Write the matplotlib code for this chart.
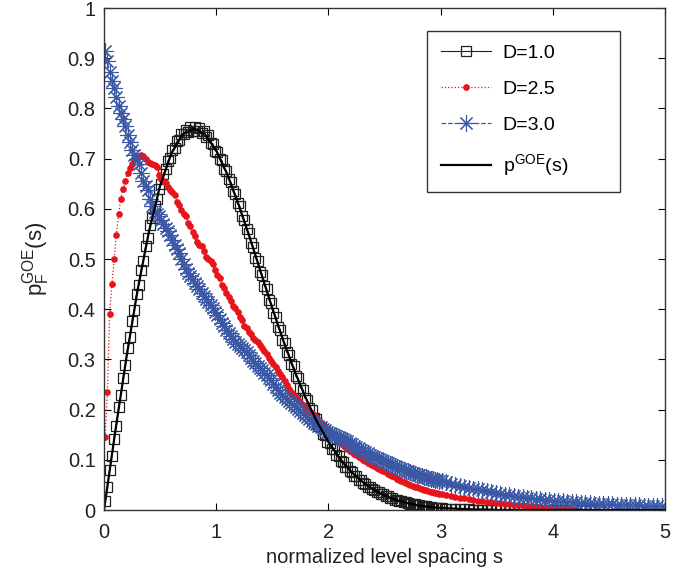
import numpy as np
import matplotlib
matplotlib.use("Agg")
import matplotlib.pyplot as plt

plt.rcParams['font.family'] = ['Liberation Sans', 'DejaVu Sans']
plt.rcParams['mathtext.fontset'] = 'custom'
plt.rcParams['mathtext.rm'] = 'Liberation Sans'
plt.rcParams['mathtext.it'] = 'Liberation Sans'

# spacing grid: fine bins up to s=3, coarser after
s_grid = np.concatenate([np.arange(0.01, 3.0, 0.02), np.arange(3.01, 5.0, 0.04)])

# D=1.0 (values in 1/1000)
d10 = [18, 45, 80, 108, 142, 168, 205, 229, 263, 288,
       322, 345, 377, 398, 430, 449, 479, 497, 525, 541,
       567, 581, 606, 619, 640, 650, 670, 679, 696, 702,
       717, 722, 735, 738, 749, 749, 757, 753, 762, 756,
       763, 755, 760, 751, 756, 744, 748, 731, 730, 716,
       714, 699, 697, 680, 676, 659, 654, 636, 630, 611,
       605, 585, 578, 559, 552, 531, 524, 503, 496, 475,
       468, 447, 440, 419, 412, 392, 385, 365, 359, 339,
       333, 314, 309, 290, 286, 266, 262, 244, 240, 223,
       220, 203, 200, 184, 182, 167, 165, 151, 149, 136,
       134, 122, 121, 109, 108, 97, 96, 86, 85, 77,
       76, 68, 67, 60, 59, 53, 52, 46, 45, 41,
       40, 36, 35, 31, 31, 27, 27, 23, 23, 20,
       20, 17, 17, 15, 15, 13, 12, 11, 11, 9,
       9, 8, 8, 7, 6, 6, 5, 5, 5, 4,
       4, 3, 3, 3, 2, 2, 2, 1, 1, 1,
       1, 1, 1, 0, 1, 0, 0, 0, 0, 0,
       0, 0, 0, 0, 0, 0, 0, 0, 0, 0,
       0, 0, 0, 0, 0, 0]

# D=2.5
d25 = [145, 235, 390, 450, 500, 548, 590, 620, 640, 655,
       672, 682, 690, 697, 702, 705, 708, 705, 699, 694,
       692, 690, 688, 683, 668, 660, 656, 652, 644, 638,
       633, 628, 614, 608, 597, 590, 585, 572, 566, 553,
       546, 533, 527, 525, 515, 505, 500, 496, 491, 478,
       468, 462, 448, 442, 433, 425, 416, 407, 402, 394,
       385, 378, 367, 362, 355, 350, 343, 338, 334, 328,
       323, 316, 310, 303, 296, 290, 284, 277, 270, 264,
       257, 250, 242, 236, 230, 225, 220, 215, 210, 205,
       201, 197, 193, 189, 185, 178, 174, 170, 165, 160,
       155, 150, 146, 141, 137, 133, 129, 125, 122, 118,
       115, 112, 109, 106, 103, 100, 97, 94, 92, 89,
       87, 84, 82, 80, 78, 75, 72, 70, 67, 65,
       62, 60, 58, 56, 54, 52, 50, 48, 46, 45,
       43, 42, 40, 39, 37, 36, 35, 34, 33, 32,
       31, 29, 27, 26, 24, 23, 21, 19, 18, 17,
       16, 15, 14, 13, 12, 11, 10, 10, 9, 8,
       8, 7, 6, 6, 5, 5, 4, 4, 3, 3,
       3]

# D=3.0
d30 = [915, 895, 872, 855, 840, 822, 805, 790, 778, 765,
       748, 733, 718, 708, 700, 690, 672, 655, 645, 638,
       620, 605, 594, 590, 585, 578, 570, 562, 555, 547,
       537, 527, 520, 511, 500, 490, 480, 473, 466, 460,
       453, 446, 440, 433, 426, 420, 415, 409, 403, 395,
       388, 380, 372, 366, 359, 352, 346, 340, 335, 331,
       327, 323, 319, 314, 309, 303, 297, 292, 287, 282,
       278, 273, 268, 263, 258, 252, 246, 240, 234, 229,
       225, 221, 217, 213, 209, 205, 201, 197, 193, 189,
       185, 181, 177, 174, 171, 168, 165, 162, 159, 156,
       153, 151, 149, 147, 145, 143, 141, 139, 137, 134,
       131, 128, 126, 123, 120, 118, 115, 113, 110, 108,
       106, 104, 102, 100, 98, 96, 94, 92, 90, 88,
       86, 84, 82, 80, 78, 77, 75, 73, 72, 70,
       69, 67, 66, 65, 63, 62, 61, 60, 59, 58,
       57, 55, 52, 49, 47, 45, 44, 42, 41, 39,
       37, 35, 33, 32, 30, 29, 27, 26, 25, 24,
       23, 22, 21, 20, 19, 18, 17, 17, 16, 15,
       15, 14, 13, 13, 12, 12, 11, 11, 11, 10,
       10, 10, 9, 9, 9, 8, 8, 8, 8, 7]

# Wigner surmise curve, s = 0, 0.1, ..., 5
s_goe = np.linspace(0, 5, 51)
goe = [0, 156, 304, 439, 554, 646, 710, 748, 760, 748,
       716, 668, 608, 542, 472, 402, 336, 276, 222, 175,
       136, 103, 77, 57, 41, 29, 20, 14, 9, 6,
       4, 3, 2, 1, 1, 0, 0, 0, 0, 0,
       0, 0, 0, 0, 0, 0, 0, 0, 0, 0, 0]

fig = plt.figure(figsize=(6.87, 5.77), dpi=100)
ax = fig.add_axes([0.1514, 0.1161, 0.8166, 0.8700])

ax.plot(s_grid[:len(d10)], np.array(d10) / 1000, color='#202020', lw=0.8,
        marker='s', ms=6.5, mfc='none', mew=0.9, label='D=1.0')
ax.plot(s_grid[:len(d25)], np.array(d25) / 1000, color='#e8141c', lw=0.9, ls=':',
        marker='o', ms=3.8, mec='#e8141c', label='D=2.5')
ax.plot(s_grid[:len(d30)], np.array(d30) / 1000, color='#3b58a6', lw=0.9, ls='--',
        marker=(8, 2, 0), ms=12, mew=0.8, label='D=3.0')
ax.plot(s_goe, np.array(goe) / 1000, color='black', lw=1.6,
        label=r'$\mathregular{p^{GOE}(s)}$')

ax.set_xlim(0, 5)
ax.set_ylim(0, 1)
ax.set_xticks([0, 1, 2, 3, 4, 5])
ax.set_yticks(np.arange(0, 1.01, 0.1))
ax.set_yticklabels(['0', '0.1', '0.2', '0.3', '0.4', '0.5', '0.6', '0.7', '0.8', '0.9', '1'])
ax.tick_params(direction='in', top=True, right=True, labelsize=14.5, length=5, width=0.8,
               pad=6, labelcolor='#222222')
ax.tick_params(axis='x', pad=9)
for sp in ax.spines.values():
    sp.set_linewidth(1.0)
    sp.set_color('#333333')

ax.set_xlabel('normalized level spacing s', fontsize=14.5, labelpad=5, color='#222222')
ax.set_ylabel(r'$\mathregular{p_F^{GOE}(s)}$', fontsize=16, labelpad=11, color='#222222')

leg = ax.legend(loc='upper left', bbox_to_anchor=(0.5758, 0.5, 0.344, 0.455), mode='expand',
                borderaxespad=0, fancybox=False, edgecolor='#333333', framealpha=1,
                fontsize=14, numpoints=1, handlelength=2.6, handletextpad=0.6,
                labelspacing=0.95, borderpad=0.7)
leg.get_frame().set_linewidth(1.0)

fig.savefig('out.png', dpi=100)
